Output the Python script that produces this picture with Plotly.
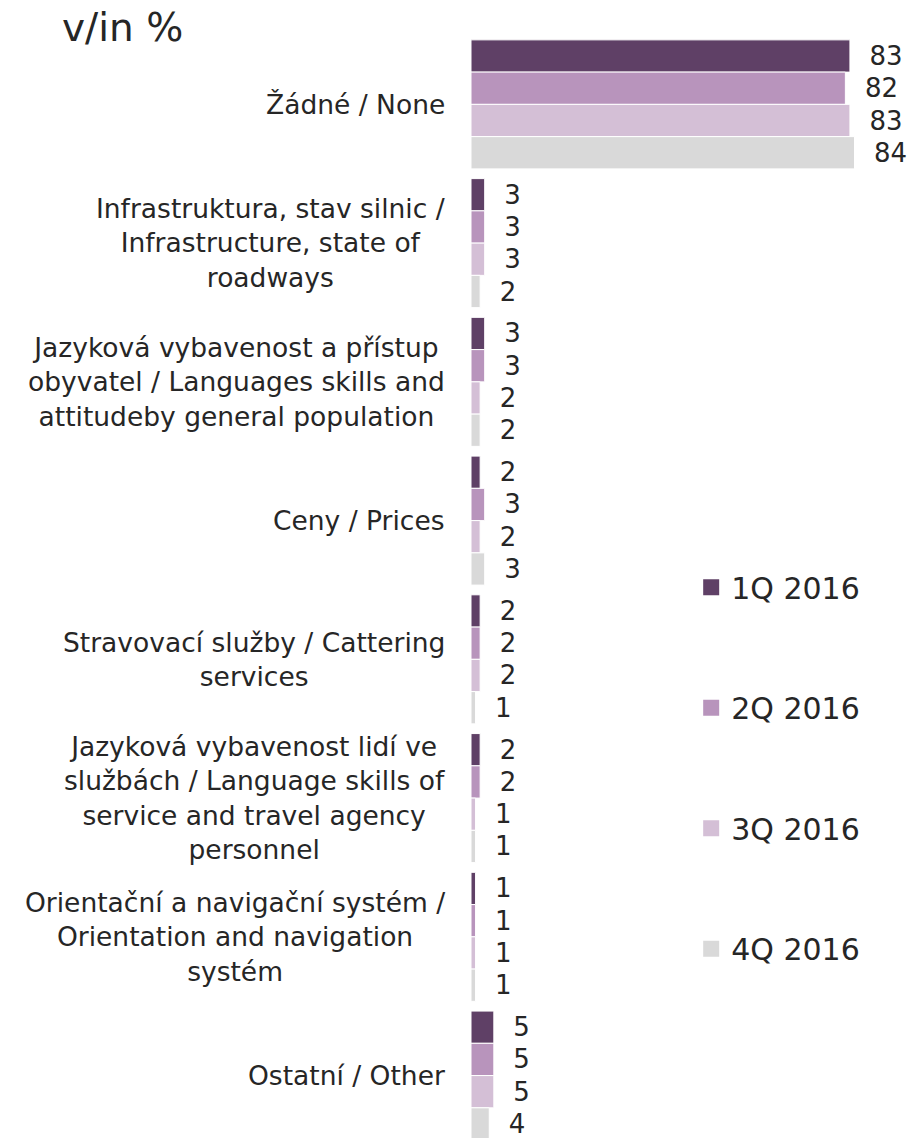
import plotly.graph_objects as go

categories = [
    "Žádné / None",
    "Infrastruktura, stav silnic /<br>Infrastructure, state of<br>roadways",
    "Jazyková vybavenost a přístup<br>obyvatel / Languages skills and<br>attitudeby general population",
    "Ceny / Prices",
    "Stravovací služby / Cattering<br>services",
    "Jazyková vybavenost lidí ve<br>službách / Language skills of<br>service and travel agency<br>personnel",
    "Orientační a navigační systém /<br>Orientation and navigation<br>systém",
    "Ostatní / Other",
]

series_names = ["1Q 2016", "2Q 2016", "3Q 2016", "4Q 2016"]
q1 = [83, 3, 3, 2, 2, 2, 1, 5]
q2 = [82, 3, 3, 3, 2, 2, 1, 5]
q3 = [83, 3, 2, 2, 2, 1, 1, 5]
q4 = [84, 2, 2, 3, 1, 1, 1, 4]
colors = ["#5f4066", "#b894bc", "#d4bfd6", "#d9d9d9"]

FONT = "DejaVu Sans"
TEXT_COLOR = "#262626"

positions = list(range(len(categories)))

fig = go.Figure()
for name, values, color in zip(series_names, [q1, q2, q3, q4], colors):
    fig.add_trace(go.Bar(
        name=name,
        legendgroup=name,
        showlegend=False,
        orientation="h",
        x=values,
        y=positions,
        marker=dict(color=color, line=dict(color="white", width=1)),
        text=values,
        texttemplate="  %{x}",
        textposition="outside",
        constraintext="none",
        cliponaxis=False,
        textfont=dict(family=FONT, size=26, color=TEXT_COLOR),
        hoverinfo="skip",
    ))

# Legend entries with larger square swatches
for name, color in zip(series_names, colors):
    fig.add_trace(go.Scatter(
        name=name,
        legendgroup=name,
        x=[None], y=[None],
        mode="markers",
        marker=dict(symbol="square", size=16, color=color),
        hoverinfo="skip",
    ))

# Category labels: centred multi-line blocks, right-aligned against the bars
for pos, label in zip(positions, categories):
    fig.add_annotation(
        x=0, xref="paper", y=pos, yref="y",
        text=label, showarrow=False,
        xanchor="right", yanchor="middle", align="center",
        xshift=-24,
        font=dict(family=FONT, size=26.5, color=TEXT_COLOR),
    )

fig.update_layout(
    width=907, height=1138,
    margin=dict(l=471, r=0, t=35, b=0),
    paper_bgcolor="white", plot_bgcolor="white",
    barmode="group", bargap=0.07, bargroupgap=0,
    title=dict(
        text="v/in %", xref="container", yref="container",
        x=62 / 907, xanchor="left", y=1 - 27 / 1138, yanchor="middle",
        font=dict(family=FONT, size=39, color=TEXT_COLOR),
    ),
    xaxis=dict(range=[0, 95.5], visible=False, fixedrange=True),
    yaxis=dict(range=[7.45, -0.5], visible=False, fixedrange=True),
    legend=dict(
        x=0.505, xanchor="left", y=0.523, yanchor="top",
        font=dict(family=FONT, size=30, color=TEXT_COLOR),
        tracegroupgap=78.5, bgcolor="rgba(0,0,0,0)",
    ),
    showlegend=True,
)

fig.write_html("out.html")
